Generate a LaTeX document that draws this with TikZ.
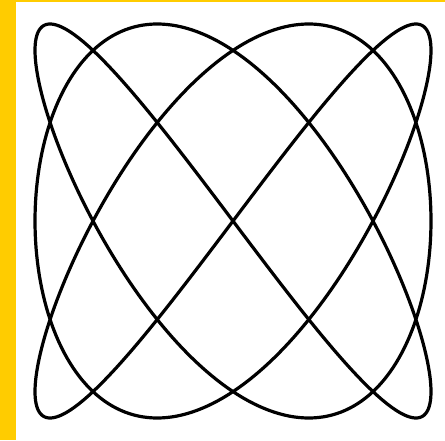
\documentclass[tikz,border=0pt]{standalone}
\definecolor{frameyellow}{RGB}{255,204,0}
\tikzset{curve/.style={line width=3.2pt, line join=round, line cap=round, black}}
\begin{document}
\begin{tikzpicture}[x=1pt,y=1pt]
\fill[white] (0,0) rectangle (445,440);
\useasboundingbox (0,0) rectangle (445,440);
\fill[frameyellow] (0,0) rectangle (16,440);
\fill[frameyellow] (0,438) rectangle (445,440);
\draw[curve] plot[domain=0:360, samples=721, variable=\t]
  ({233+198*sin(3*\t)}, {219+197*sin(4*\t)}) -- cycle;
\end{tikzpicture}
\end{document}
